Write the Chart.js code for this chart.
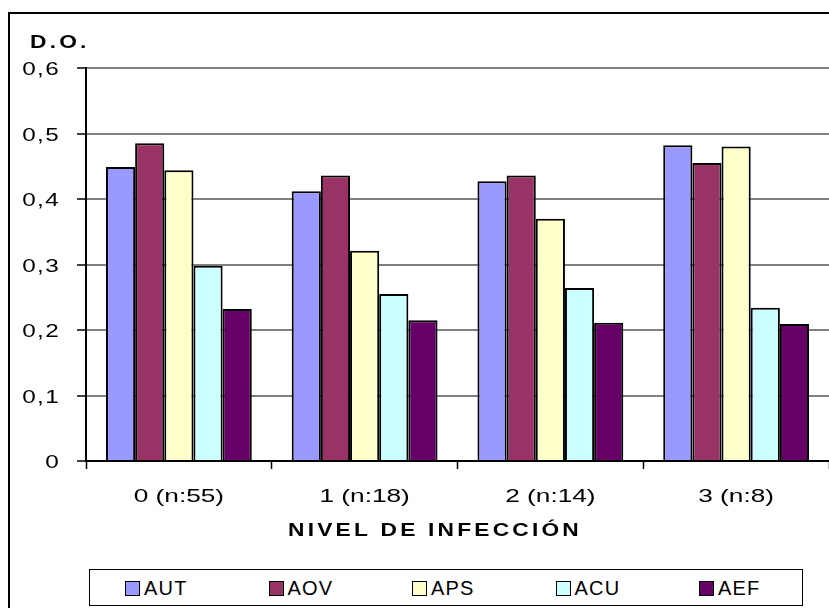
<!DOCTYPE html>
<html>
<head>
<meta charset="utf-8">
<script src="https://cdn.jsdelivr.net/npm/chart.js@4/dist/chart.umd.min.js"></script>
<style>
  html, body { margin: 0; padding: 0; background: #fff; }
  body { width: 829px; height: 608px; position: relative; overflow: hidden; font-family: "Liberation Sans", Arial, sans-serif; }
  #frame { position: absolute; left: 8px; top: 12px; width: 900px; height: 700px; border-left: 2px solid #000; border-top: 2px solid #000; }
  #wrap { position: absolute; left: 0; top: 0; width: 829px; height: 608px; }
  #legend { position: absolute; left: 89px; top: 569px; width: 714px; height: 37px; border: 1px solid #000; box-sizing: border-box; background: #fff; }
  .item { position: absolute; top: 0; height: 36px; display: flex; align-items: center; font-size: 20px; letter-spacing: 1.2px; color: #000; }
  .swatch { width: 13px; height: 13px; border: 1px solid #000; margin-right: 4px; }
</style>
</head>
<body>
<div id="frame"></div>
<div id="wrap"><canvas id="chart" width="829" height="608"></canvas></div>
<div id="legend"></div>
<script>
const categories = ['0 (n:55)', '1 (n:18)', '2 (n:14)', '3 (n:8)'];
const seriesNames = ['AUT', 'AOV', 'APS', 'ACU', 'AEF'];
const autValues = [0.449, 0.412, 0.427, 0.482];
const aovValues = [0.485, 0.436, 0.436, 0.455];
const apsValues = [0.444, 0.321, 0.370, 0.480];
const acuValues = [0.298, 0.255, 0.264, 0.234];
const aefValues = [0.232, 0.215, 0.211, 0.209];
const yTickLabels = ['0', '0,1', '0,2', '0,3', '0,4', '0,5', '0,6'];
const yTitle = 'D.O.';
const xTitle = 'NIVEL DE INFECCIÓN';
const colors = ['#9999FF', '#993366', '#FFFFCC', '#CCFFFF', '#660066'];

const seriesValues = [autValues, aovValues, apsValues, acuValues, aefValues];
const FONT = '"Liberation Sans", Arial, sans-serif';

// the old export has horizontally stretched text, canvas can do that with scale()
function stretchText(ctx, text, x, y, sx, align) {
  ctx.save();
  ctx.translate(x, y);
  ctx.scale(sx, 1);
  ctx.textAlign = align;
  ctx.fillText(text, 0, 0);
  ctx.restore();
}

const stretchedLabels = {
  id: 'stretchedLabels',
  afterDraw(chart) {
    const ctx = chart.ctx;
    const xs = chart.scales.x;
    const ys = chart.scales.y;
    ctx.save();
    ctx.fillStyle = '#000';
    ctx.textBaseline = 'alphabetic';

    ctx.font = '17.5px ' + FONT;
    xs.ticks.forEach((t, i) => {
      stretchText(ctx, xs.getLabelForValue(t.value), xs.getPixelForTick(i), 502, 1.5, 'center');
    });

    ctx.font = '18px ' + FONT;
    ctx.letterSpacing = '1px';
    ys.ticks.forEach((t, i) => {
      stretchText(ctx, yTickLabels[i], 60, ys.getPixelForTick(i) + 7, 1.35, 'right');
    });

    ctx.font = 'bold 18.5px ' + FONT;
    ctx.letterSpacing = '2.6px';
    stretchText(ctx, yTitle, 30, 48, 1.23, 'left');
    stretchText(ctx, xTitle, 288, 536, 1.23, 'left');
    ctx.restore();
  }
};

const ctx = document.getElementById('chart').getContext('2d');
const chart = new Chart(ctx, {
  type: 'bar',
  data: {
    labels: categories,
    datasets: seriesNames.map((name, i) => ({
      label: name,
      data: seriesValues[i],
      backgroundColor: colors[i],
      borderColor: '#000',
      borderWidth: 2,
      categoryPercentage: 0.785,
      barPercentage: 1.0
    }))
  },
  options: {
    responsive: false,
    devicePixelRatio: 1,
    animation: false,
    layout: { padding: { top: 68, left: 0, right: 0, bottom: 97 } },
    plugins: {
      legend: { display: false },
      tooltip: { enabled: false }
    },
    scales: {
      x: {
        afterFit: (scale) => { scale.height = 50; },
        grid: { drawOnChartArea: false, tickLength: 8, tickColor: '#000', tickWidth: 1.5, offset: true },
        border: { color: '#000', width: 2 },
        ticks: { color: 'rgba(0,0,0,0)', font: { family: FONT, size: 18 }, padding: 15, maxRotation: 0 }
      },
      y: {
        min: 0,
        max: 0.6,
        afterFit: (scale) => { scale.width = 86; },
        grid: { color: '#808080', lineWidth: 2, tickLength: 9, tickColor: '#000', tickWidth: 1.5 },
        border: { color: '#000', width: 2 },
        ticks: {
          stepSize: 0.1,
          color: 'rgba(0,0,0,0)',
          font: { family: FONT, size: 18 },
          padding: 13,
          callback: (value, index) => yTickLabels[index]
        }
      }
    }
  },
  plugins: [stretchedLabels]
});

// legend box built from the chart's own legend items
const legendEl = document.getElementById('legend');
chart.options.plugins.legend.labels.generateLabels(chart).forEach((item, i) => {
  const el = document.createElement('div');
  el.className = 'item';
  el.style.left = (35 + i * 143.5) + 'px';
  const sw = document.createElement('span');
  sw.className = 'swatch';
  sw.style.background = item.fillStyle;
  el.appendChild(sw);
  el.appendChild(document.createTextNode(item.text));
  legendEl.appendChild(el);
});
</script>
</body>
</html>
